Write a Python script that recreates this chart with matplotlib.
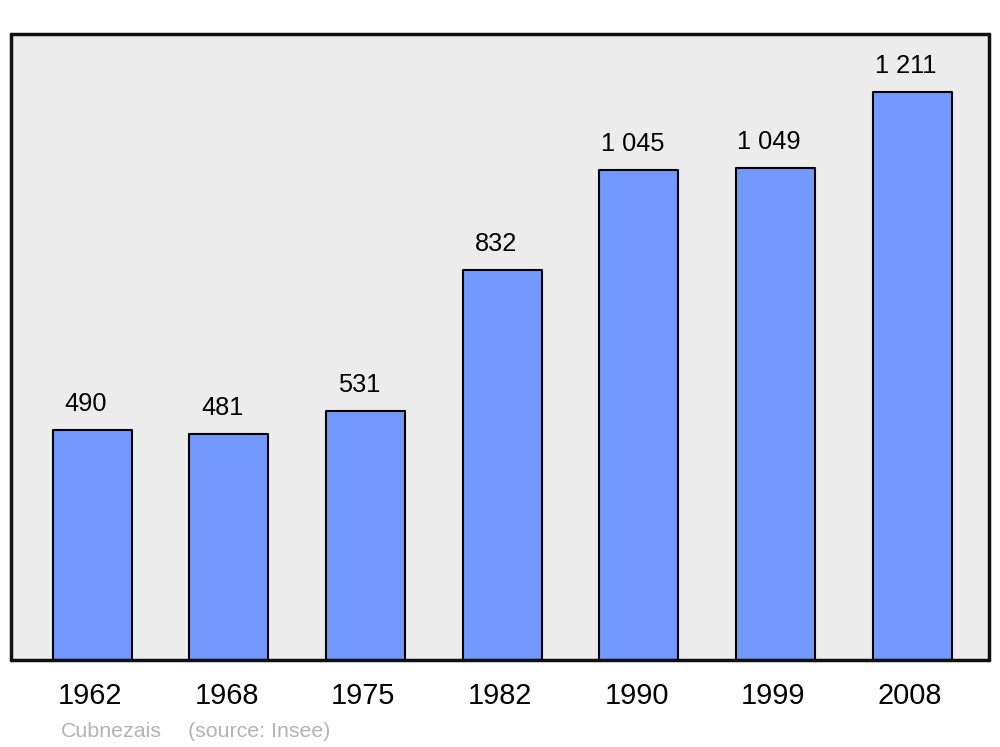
import matplotlib
matplotlib.use("Agg")
import matplotlib.pyplot as plt

years = ["1962", "1968", "1975", "1982", "1990", "1999", "2008"]
population = [490, 481, 531, 832, 1045, 1049, 1211]
value_labels = ["490", "481", "531", "832", "1 045", "1 049", "1 211"]
commune = "Cubnezais"
source = "(source: Insee)"

plt.rcParams['font.family'] = ['Liberation Sans', 'DejaVu Sans']

fig = plt.figure(figsize=(10, 7.47), dpi=100)
ax = fig.add_axes([0.011, (747 - 660) / 747, 0.978, 626 / 747])
ax.set_facecolor('#ececec')

x = list(range(len(years)))
bars = ax.bar(x, population, width=0.578, color='#7399ff', edgecolor='black',
              linewidth=1.5, zorder=2)
for b in bars:
    b.set_joinstyle('round')

ax.set_xlim(-0.593, 6.563)
ax.set_ylim(0, 1334.7)
ax.set_xticks([])
ax.set_yticks([])
for s in ax.spines.values():
    s.set_linewidth(2.5)
    s.set_color('#111111')
    s.set_capstyle('round')

for xi, v, lab in zip(x, population, value_labels):
    ax.annotate(lab, (xi, v), xytext=(-4.5, 13.8), textcoords='offset points',
                ha='center', va='baseline', fontsize=18.3, color='black')

for xi, yr in zip(x, years):
    ax.annotate(yr, (xi, 0), xycoords=('data', 'axes fraction'),
                xytext=(-1.5, -32), textcoords='offset points',
                ha='center', va='baseline', fontsize=20.8, color='black',
                annotation_clip=False)

fig.text(61 / 1000, 1 - 737 / 747, commune, ha='left', va='baseline',
         fontsize=15.4, color='#b3b3b3')
fig.text(188 / 1000, 1 - 737 / 747, source, ha='left', va='baseline',
         fontsize=15.4, color='#b3b3b3')

fig.savefig('out.png', dpi=100, facecolor='white')
